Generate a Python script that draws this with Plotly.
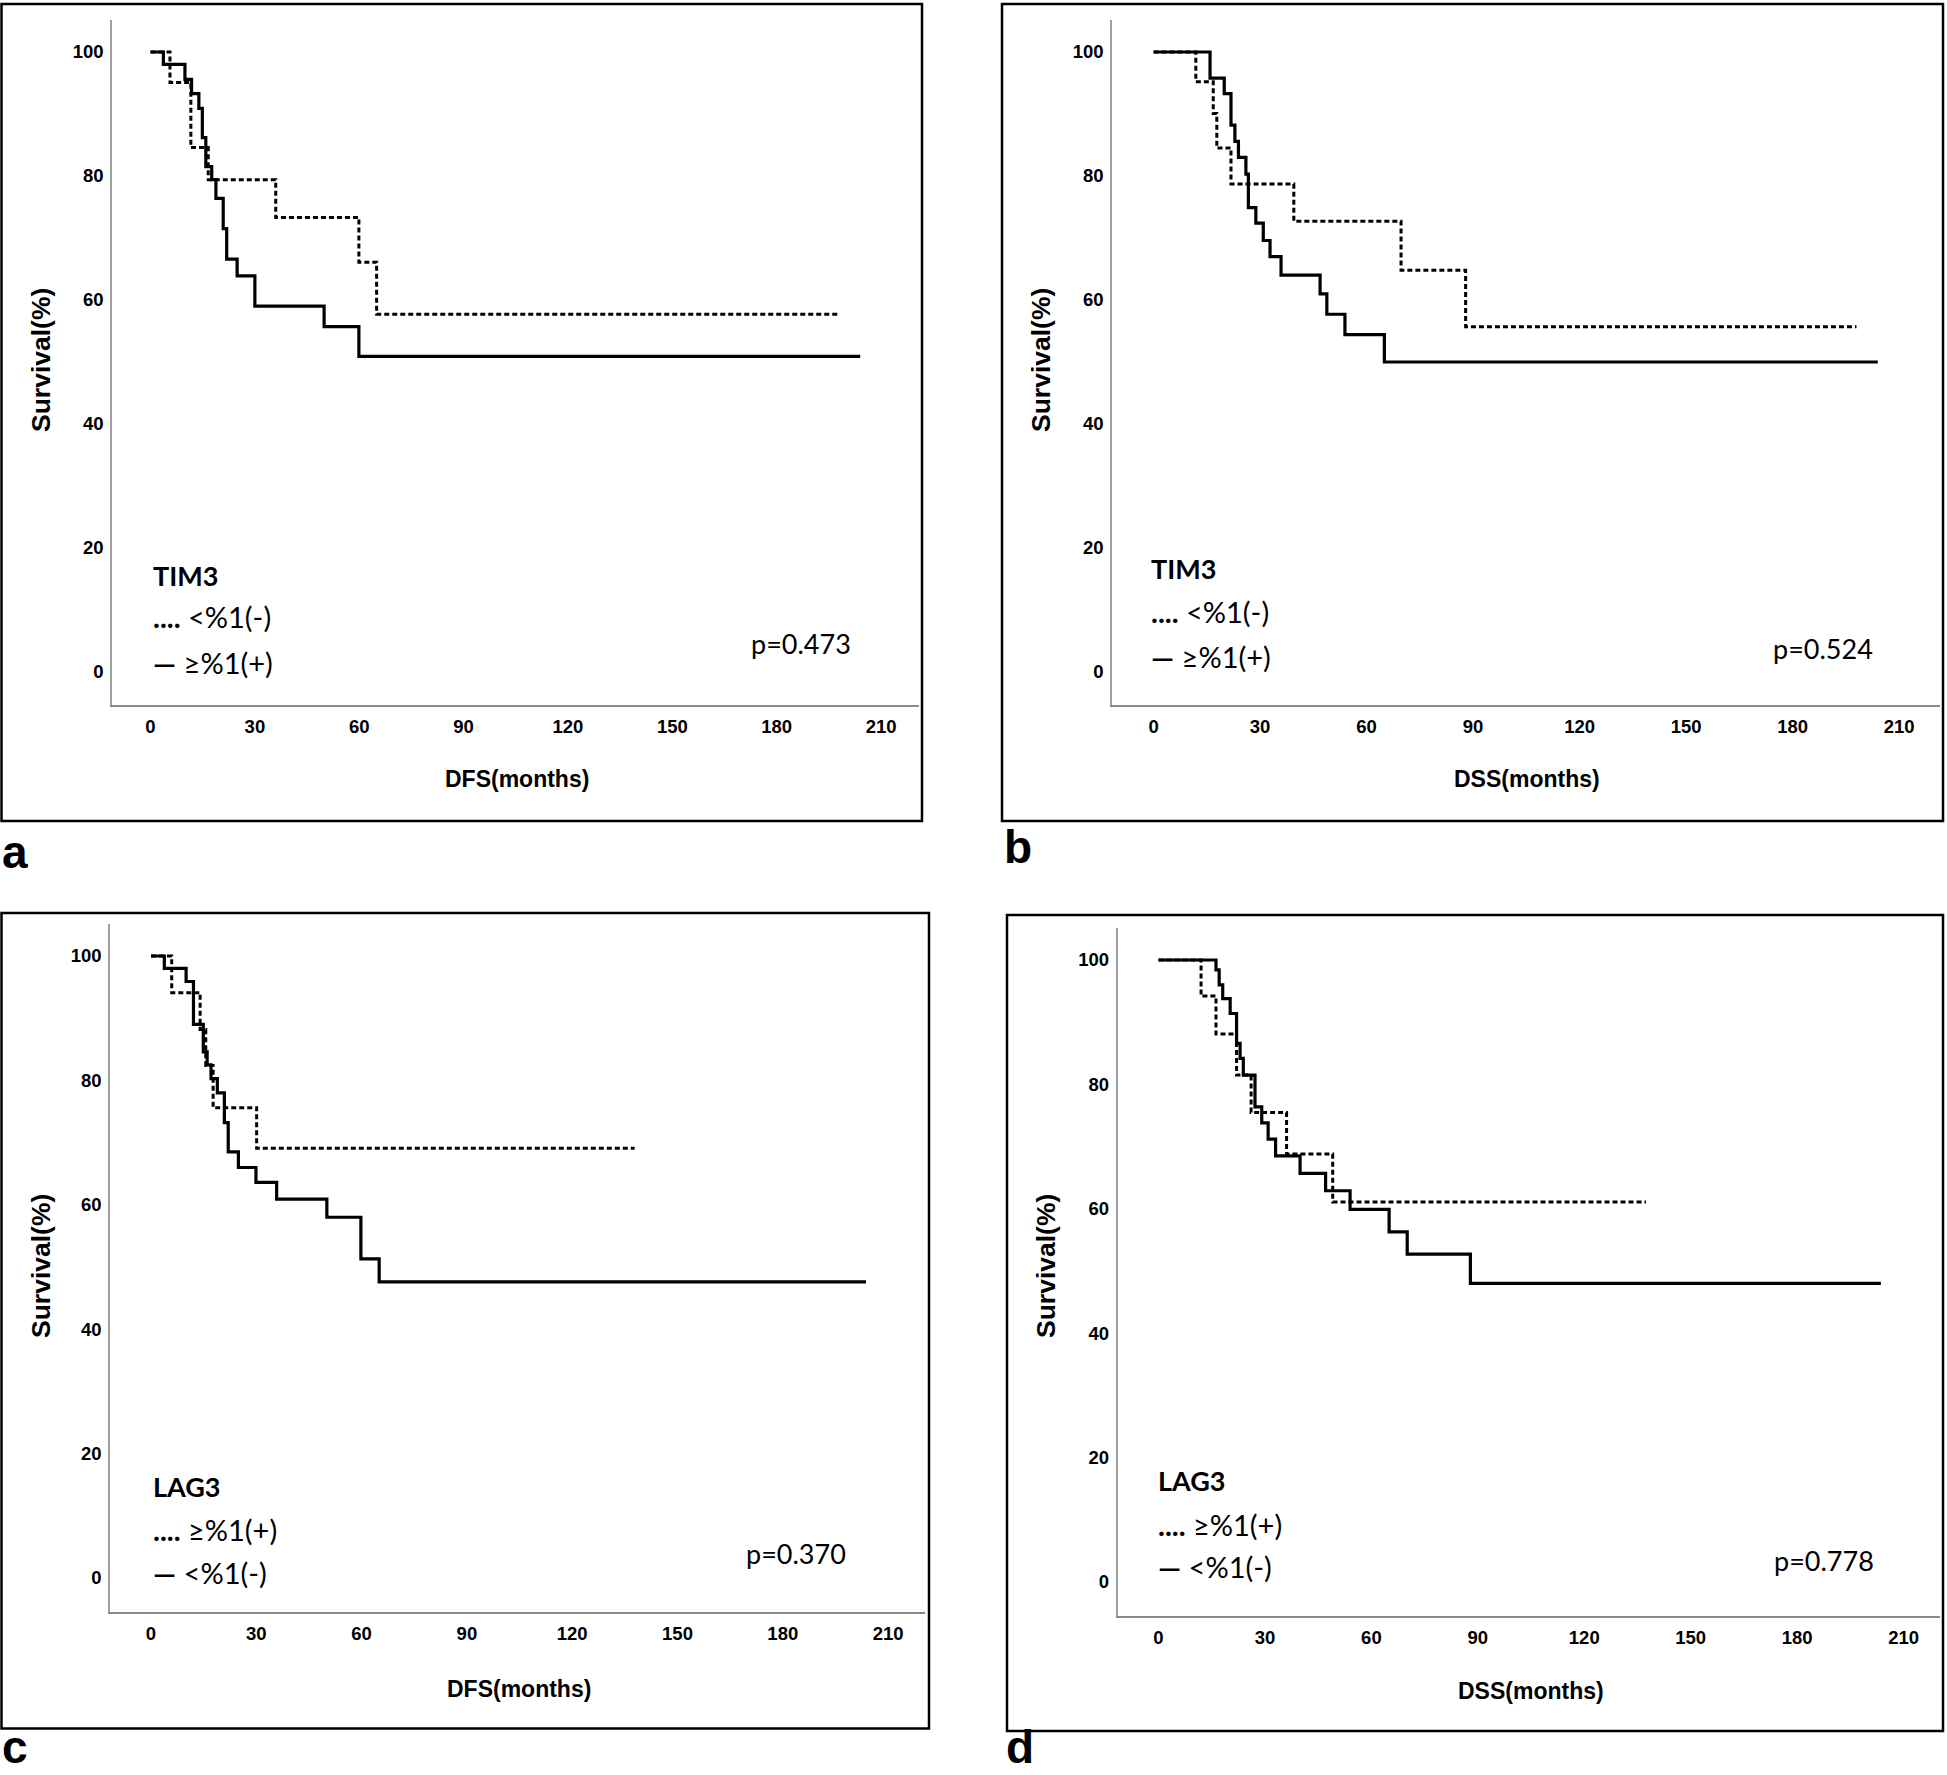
import plotly.graph_objects as go

W, H = 1947, 1775

# ---------------- data ----------------
x_ticks = [0, 30, 60, 90, 120, 150, 180, 210]
y_ticks = [0, 20, 40, 60, 80, 100]

# a) TIM3 - DFS
a_solid_t = [0, 3.7, 9.9, 11.8, 13.9, 14.9, 15.9, 17.6, 18.8, 20.9, 21.9, 24.9, 30.0, 49.9, 59.9, 204]
a_solid_s = [100, 98.0, 95.6, 93.3, 90.9, 86.2, 81.5, 79.4, 76.4, 71.5, 66.6, 63.9, 59.0, 55.7, 50.9, 50.9]
a_dot_t = [0, 5.6, 11.6, 16.6, 36.0, 59.9, 65.0, 198]
a_dot_s = [100, 95.1, 84.6, 79.4, 73.3, 66.1, 57.7, 57.7]

# b) TIM3 - DSS
b_solid_t = [0, 15.9, 19.9, 21.8, 22.9, 23.9, 26.0, 26.7, 28.8, 30.9, 32.8, 35.9, 46.9, 48.8, 53.9, 65.0, 204]
b_solid_s = [100, 95.8, 93.3, 88.2, 85.6, 83.0, 80.3, 74.9, 72.4, 69.6, 67.0, 64.0, 61.0, 57.7, 54.4, 50.0, 50.0]
b_dot_t = [0, 11.9, 16.8, 17.8, 21.8, 39.5, 69.7, 87.9, 198]
b_dot_s = [100, 95.2, 90.1, 84.5, 78.7, 72.7, 64.8, 55.7, 55.7]

# c) LAG3 - DFS
c_solid_t = [0, 3.8, 10.0, 12.1, 14.9, 16.0, 17.1, 18.9, 20.9, 22.0, 24.9, 29.9, 35.8, 50.1, 59.8, 65.0, 203.7]
c_solid_s = [100, 98.0, 95.9, 89.0, 84.6, 82.5, 80.3, 78.0, 73.2, 68.5, 66.0, 63.6, 60.9, 58.0, 51.3, 47.6, 47.6]
c_dot_t = [0, 5.9, 14.0, 15.6, 17.7, 30.1, 137.8]
c_dot_s = [100, 94.1, 88.2, 82.4, 75.6, 69.1, 69.1]

# d) LAG3 - DSS
d_solid_t = [0, 16.2, 17.1, 18.1, 20.2, 22.0, 23.0, 23.9, 27.2, 29.1, 30.9, 33.0, 39.9, 47.1, 54.0, 65.0, 70.1, 87.9, 203.6]
d_solid_s = [100, 98.4, 96.0, 93.8, 91.4, 86.6, 84.2, 81.5, 76.4, 73.8, 71.2, 68.5, 65.7, 62.9, 59.9, 56.3, 52.7, 48.0, 48.0]
d_dot_t = [0, 12.0, 16.2, 22.0, 26.1, 36.1, 49.1, 137.4]
d_dot_s = [100, 94.2, 88.1, 81.5, 75.5, 68.8, 61.1, 61.1]

titles_marker = ["TIM3", "TIM3", "LAG3", "LAG3"]
legend_dot = ["&lt;%1(-)", "&lt;%1(-)", "≥%1(+)", "≥%1(+)"]
legend_solid = ["≥%1(+)", "≥%1(+)", "&lt;%1(-)", "&lt;%1(-)"]
p_values = ["p=0.473", "p=0.524", "p=0.370", "p=0.778"]
x_titles = ["DFS(months)", "DSS(months)", "DFS(months)", "DSS(months)"]
y_title = "Survival(%)"
panel_letters = ["a", "b", "c", "d"]

series = [
    (a_solid_t, a_solid_s, a_dot_t, a_dot_s),
    (b_solid_t, b_solid_s, b_dot_t, b_dot_s),
    (c_solid_t, c_solid_s, c_dot_t, c_dot_s),
    (d_solid_t, d_solid_s, d_dot_t, d_dot_s),
]

# ---------------- layout geometry (pixels in the page) ----------------
# L, R, T, B : axis box ; x0 : pixel of month 0 ; ppm : px per month ; y0 : pixel of 0 % ; ppp : px per %
geom = [
    dict(L=112, R=919, T=20, B=705, x0=150.5, ppm=3.479, y0=672, ppp=6.2),
    dict(L=1112, R=1940, T=20, B=705, x0=1153.6, ppm=3.55, y0=672, ppp=6.2),
    dict(L=110, R=925, T=924, B=1612, x0=151, ppm=3.51, y0=1578, ppp=6.22),
    dict(L=1117.5, R=1940, T=928, B=1615.5, x0=1158.5, ppm=3.548, y0=1582, ppp=6.22),
]
frames = [(1.5, 4, 922, 821), (1002, 4, 1943, 821), (1.5, 913, 929, 1728.5), (1007, 915, 1943, 1731)]
texts_pos = [
    dict(mx=151, my=575, dy=617, sy=662, px=749, py=643, xtx=517, xty=779, ytx=41, yty=360, lx=0, ly=852, lanchor="middle"),
    dict(mx=1149, my=569, dy=612, sy=656, px=1771, py=648, xtx=1527, xty=779, ytx=1041, yty=360, lx=1002, ly=847, lanchor="middle"),
    dict(mx=151, my=1486, dy=1529, sy=1572, px=744, py=1553, xtx=519, xty=1689, ytx=41, yty=1266, lx=0, ly=1775, lanchor="bottom"),
    dict(mx=1156, my=1480, dy=1524, sy=1566, px=1772, py=1560, xtx=1531, xty=1691, ytx=1046, yty=1266, lx=1004, ly=1775, lanchor="bottom"),
]

TICK_FONT = dict(family="Liberation Sans, Arial, sans-serif", size=18.5, color="black", weight="bold")
AX_FONT = dict(family="Liberation Sans, Arial, sans-serif", size=23, color="black", weight="bold")
YT_FONT = dict(family="Liberation Sans, Arial, sans-serif", size=26.5, color="black", weight="bold")
LEG_FONT = "Lato, Carlito, Open Sans, sans-serif"

fig = go.Figure()
layout = dict(
    width=W, height=H, autosize=False,
    margin=dict(l=0, r=0, t=0, b=0),
    paper_bgcolor="white", plot_bgcolor="white",
    showlegend=False,
)
annotations = []
shapes = []


def px(X):
    return X / W


def py(Y):
    return 1 - Y / H


for i, (g, (st, ss, dt, ds)) in enumerate(zip(geom, series)):
    n = "" if i == 0 else str(i + 1)
    xa, ya = "x" + n, "y" + n
    fig.add_trace(go.Scatter(x=dt, y=ds, mode="lines", line_shape="hv", xaxis=xa, yaxis=ya,
                             line=dict(color="black", width=3, dash="5px,3px"), hoverinfo="skip"))
    fig.add_trace(go.Scatter(x=st, y=ss, mode="lines", line_shape="hv", xaxis=xa, yaxis=ya,
                             line=dict(color="black", width=3.2), hoverinfo="skip"))
    layout["xaxis" + n] = dict(
        domain=[px(g["L"]), px(g["R"])],
        range=[(g["L"] - g["x0"]) / g["ppm"], (g["R"] - g["x0"]) / g["ppm"]],
        tickvals=x_ticks, ticktext=[str(v) for v in x_ticks],
        showline=True, linecolor="#8a8a8a", linewidth=2, showgrid=False, zeroline=False,
        ticks="", tickfont=TICK_FONT, anchor=ya, ticklabelstandoff=4,
    )
    layout["yaxis" + n] = dict(
        domain=[py(g["B"]), py(g["T"])],
        range=[(g["y0"] - g["B"]) / g["ppp"], (g["y0"] - g["T"]) / g["ppp"]],
        tickvals=y_ticks, ticktext=[str(v) for v in y_ticks],
        showline=True, linecolor="#a0a0a0", linewidth=1.5, showgrid=False, zeroline=False,
        ticks="", tickfont=TICK_FONT, anchor=xa, ticklabelstandoff=3,
    )
    t = texts_pos[i]
    annotations += [
        dict(text="<b>" + titles_marker[i] + "</b>", x=px(t["mx"]), y=py(t["my"]), xanchor="left", yanchor="middle",
             font=dict(family=LEG_FONT, size=27, color="black")),
        dict(text="<b>....</b> " + legend_dot[i], x=px(t["mx"]), y=py(t["dy"]), xanchor="left", yanchor="middle",
             font=dict(family=LEG_FONT, size=29, color="black")),
        dict(text="<b>—</b> " + legend_solid[i], x=px(t["mx"]), y=py(t["sy"]), xanchor="left", yanchor="middle",
             font=dict(family=LEG_FONT, size=29, color="black")),
        dict(text=p_values[i], x=px(t["px"]), y=py(t["py"]), xanchor="left", yanchor="middle",
             font=dict(family=LEG_FONT, size=27, color="black")),
        dict(text=x_titles[i], x=px(t["xtx"]), y=py(t["xty"]), xanchor="center", yanchor="middle", font=AX_FONT),
        dict(text=y_title, x=px(t["ytx"]), y=py(t["yty"]), xanchor="center", yanchor="middle", textangle=-90,
             font=YT_FONT),
        dict(text="<b>" + panel_letters[i] + "</b>", x=px(t["lx"]), y=py(t["ly"]), xanchor="left",
             yanchor=t["lanchor"], font=dict(family="Liberation Sans, Arial, sans-serif", size=46, color="black")),
    ]
    x0f, y0f, x1f, y1f = frames[i]
    shapes.append(dict(type="rect", xref="paper", yref="paper", x0=px(x0f), x1=px(x1f), y0=py(y1f), y1=py(y0f),
                       line=dict(color="black", width=2.5), fillcolor="rgba(0,0,0,0)"))

for a in annotations:
    a.update(xref="paper", yref="paper", showarrow=False)
layout["annotations"] = annotations
layout["shapes"] = shapes
fig.update_layout(**layout)

fig.write_html("out.html", config={"displayModeBar": False},
               post_script="document.body.style.margin='0';document.body.style.overflow='hidden';")
